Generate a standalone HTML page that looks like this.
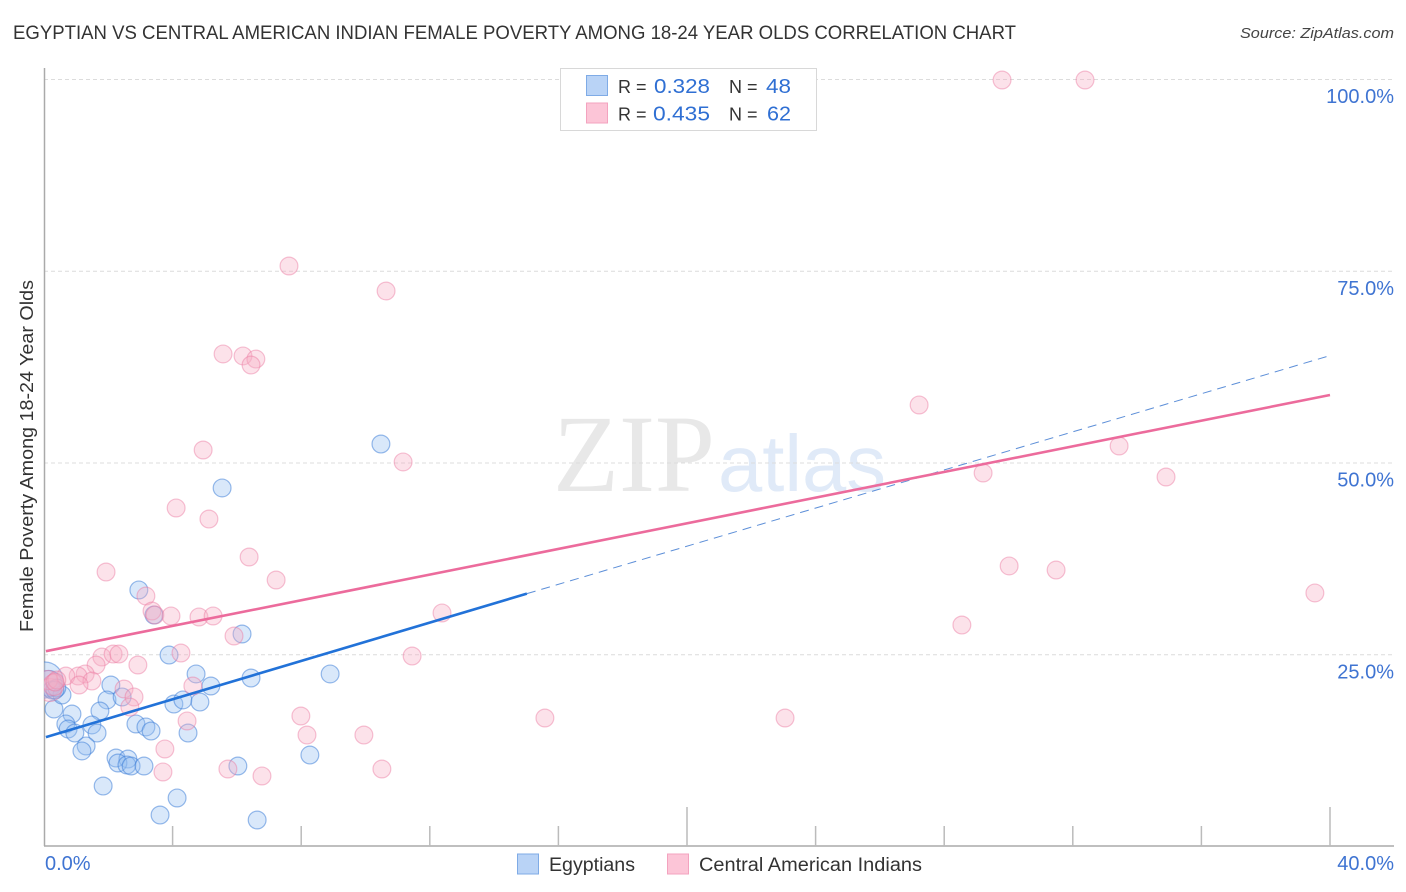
<!DOCTYPE html>
<html lang="en">
<head>
<meta charset="utf-8">
<title>Egyptian vs Central American Indian Female Poverty Correlation Chart</title>
<style>
html,body{margin:0;padding:0;background:#fff;width:1406px;height:892px;overflow:hidden}
svg{display:block;font-family:"Liberation Sans",sans-serif}
</style>
</head>
<body>
<svg id="chart" xmlns="http://www.w3.org/2000/svg" width="1406" height="892" viewBox="0 0 1406 892">
<defs><clipPath id="plot-clip"><rect x="44" y="60" width="1360" height="786"/></clipPath></defs>
<rect width="1406" height="892" fill="#fff"/>
<text x="13" y="39" font-size="19" fill="#333" textLength="1003" lengthAdjust="spacingAndGlyphs">EGYPTIAN VS CENTRAL AMERICAN INDIAN FEMALE POVERTY AMONG 18-24 YEAR OLDS CORRELATION CHART</text>
<text x="1394" y="38" font-size="15" font-style="italic" fill="#444" text-anchor="end" textLength="154" lengthAdjust="spacingAndGlyphs">Source: ZipAtlas.com</text>
<text x="553" y="491" font-size="110" fill="#e8e8e8" font-family="'Liberation Serif',serif" textLength="162" lengthAdjust="spacingAndGlyphs">ZIP</text>
<text x="718" y="491" font-size="80" fill="#e0eaf8" textLength="168" lengthAdjust="spacingAndGlyphs">atlas</text>
<g id="grid"></g>
<g id="axes"></g>
<g id="points" clip-path="url(#plot-clip)"></g>
<g id="trends"></g>
<g>
<rect x="560.5" y="68.5" width="256" height="62" fill="#fff" stroke="#d8d8d8"/>
<rect x="586.5" y="75.5" width="21" height="20" fill="#b9d3f6" stroke="#7fabe6"/>
<rect x="586.5" y="103" width="21" height="20" fill="#fcc5d7" stroke="#f3a3bf"/>
<g font-size="20">
<text x="618" y="93" fill="#333" font-size="18">R =</text>
<text x="654" y="93" fill="#2f6fd3" textLength="56" lengthAdjust="spacingAndGlyphs">0.328</text>
<text x="729" y="93" fill="#333" font-size="18">N =</text>
<text x="766" y="93" fill="#2f6fd3" textLength="25" lengthAdjust="spacingAndGlyphs">48</text>
<text x="618" y="120.500" fill="#333" font-size="18">R =</text>
<text x="653" y="120.500" fill="#2f6fd3" textLength="57" lengthAdjust="spacingAndGlyphs">0.435</text>
<text x="729" y="120.500" fill="#333" font-size="18">N =</text>
<text x="767" y="120.500" fill="#2f6fd3" textLength="24" lengthAdjust="spacingAndGlyphs">62</text>
</g>
</g>
<g>
<rect x="517.500" y="854" width="21" height="20" fill="#b9d3f6" stroke="#7fabe6"/>
<text x="549" y="871" font-size="19" fill="#333" textLength="86" lengthAdjust="spacingAndGlyphs">Egyptians</text>
<rect x="667.500" y="854" width="21" height="20" fill="#fcc5d7" stroke="#f3a3bf"/>
<text x="699" y="871" font-size="19" fill="#333" textLength="223" lengthAdjust="spacingAndGlyphs">Central American Indians</text>
</g>
<text transform="translate(33,456) rotate(-90)" text-anchor="middle" font-size="18.500" fill="#333" textLength="352" lengthAdjust="spacingAndGlyphs">Female Poverty Among 18-24 Year Olds</text>
</svg>
<script>
const xTickValues = [0, 4, 8, 12, 16, 20, 24, 28, 32, 36, 40];
const xMajorTicks = [20, 40];
const xLabelValues = ["0.0%", "40.0%"];
const yTickValues = [25, 50, 75, 100];
const yTickLabels = ["25.0%", "50.0%", "75.0%", "100.0%"];

const blueX = [10.48,5.54,2.95,3.42,6.16,3.89,4.73,6.44,8.90,5.19,2.08,0.31,0.25,0.56,1.96,2.43,4.04,4.32,4.85,1.74,0.87,0.68,0.75,0.96,1.49,1.65,2.86,3.17,3.33,4.48,1.31,1.18,2.24,2.61,2.30,2.58,2.71,3.11,6.03,8.27,1.84,4.14,3.61,6.63,0.40,0.34];
const blueY = [52.41,46.68,33.38,30.12,27.64,24.90,22.43,21.90,22.43,20.86,20.99,17.86,20.34,19.69,19.04,19.43,18.51,19.04,18.77,17.60,17.21,15.91,15.25,14.73,15.78,14.73,15.91,15.52,14.99,14.73,13.04,12.39,11.47,11.34,10.82,10.56,10.43,10.43,10.43,11.86,7.82,6.26,4.04,3.39,20.60,20.34];
const blueClusterX = [0.03,0.15];
const blueClusterY = [21.64,21.20];
const blueClusterSize = [3.75,2.7];

const pinkX = [29.80,32.38,7.62,10.64,5.57,6.19,6.59,6.44,27.22,33.44,4.95,11.17,29.21,34.90,4.11,5.13,6.38,1.93,7.22,30.02,31.48,39.53,3.17,3.36,3.45,3.95,4.82,5.26,12.38,28.55,5.91,11.45,1.80,2.15,2.33,4.26,2.92,1.62,1.28,1.06,0.68,0.40,1.49,1.09,2.49,4.63,2.80,2.67,7.99,4.45,15.58,23.05,8.18,9.95,3.76,3.70,5.72,6.78,10.51,0.34];
const pinkY = [99.87,99.87,75.62,72.36,64.15,63.89,63.49,62.71,57.50,52.15,51.63,50.07,48.63,48.11,44.07,42.63,37.68,35.72,34.68,36.51,35.98,32.99,32.59,30.64,30.12,29.99,29.86,29.99,30.38,28.81,27.38,24.77,24.64,25.03,25.03,25.16,23.60,23.60,22.43,22.16,22.16,21.64,21.51,20.99,20.47,20.86,19.43,18.12,16.95,16.30,16.69,16.69,14.47,14.47,12.65,9.65,10.04,9.13,10.04,21.38];
const pinkClusterX = [0.19,0.12,0.30];
const pinkClusterY = [20.34,21.64,21.00];
const pinkClusterSize = [2.4,2.0,2.2];

const blueSolidFit = [0.06, 14.2, 15.02, 32.9];
const blueDashedFit = [15.02, 32.9, 40.05, 64.0];
const pinkFit = [0.06, 25.4, 40, 58.8];

const NS = "http://www.w3.org/2000/svg";
const xScale = v => 44 + v * 32.15;
const yScale = v => 846 - v * 7.67;
function make(tag, attrs, parent) {
  const el = document.createElementNS(NS, tag);
  for (const k in attrs) el.setAttribute(k, attrs[k]);
  parent.appendChild(el);
  return el;
}
const grid = document.getElementById("grid");
const axes = document.getElementById("axes");
const points = document.getElementById("points");
const trends = document.getElementById("trends");

yTickValues.forEach((v, i) => {
  const line = make("line", {x1: 44, x2: 1394, y1: yScale(v) + .5, y2: yScale(v) + .5, stroke: "#dcdcdc", "stroke-width": 1, "stroke-dasharray": "4 3"}, grid);
  
  
  const label = make("text", {x: 1394, y: yScale(v) + 24, "text-anchor": "end", "font-size": 20, fill: "#3f74d2"}, axes);
  label.textContent = yTickLabels[i];
  
  
});

const yAxis = make("line", {x1: 44.500, x2: 44.500, y1: 68, y2: 846, stroke: "#aaa", "stroke-width": 1.500}, axes);


const xAxis = make("line", {x1: 44, x2: 1394, y1: 846, y2: 846, stroke: "#aaa", "stroke-width": 1.500}, axes);



xTickValues.slice(1).forEach(v => {
  const tick = make("line", {x1: xScale(v), x2: xScale(v), y1: xMajorTicks.includes(v) ? 807 : 826, y2: 846, stroke: "#bbb", "stroke-width": 1.500}, axes);
  
  
});

const xLabel0 = make("text", {x: 45, y: 870, "font-size": 20, fill: "#3f74d2"}, axes);
xLabel0.textContent = xLabelValues[0];


const xLabel1 = make("text", {x: 1394, y: 870, "text-anchor": "end", "font-size": 20, fill: "#3f74d2"}, axes);
xLabel1.textContent = xLabelValues[1];



function blueDot(x, y, r) {
  const c = make("circle", {cx: xScale(x), cy: yScale(y), r: r, fill: "rgba(150,190,240,.36)", stroke: "rgba(60,125,215,.52)", "stroke-width": 1.200}, points);
  
  
}
function pinkDot(x, y, r) {
  const c = make("circle", {cx: xScale(x), cy: yScale(y), r: r, fill: "rgba(248,175,198,.36)", stroke: "rgba(235,120,160,.45)", "stroke-width": 1.200}, points);
  
  
}
blueClusterX.forEach((x, i) => blueDot(x, blueClusterY[i], 4.8 * blueClusterSize[i]));
blueX.forEach((x, i) => blueDot(x, blueY[i], 8.9));
pinkClusterX.forEach((x, i) => pinkDot(x, pinkClusterY[i], 4.8 * pinkClusterSize[i]));
pinkX.forEach((x, i) => pinkDot(x, pinkY[i], 8.9));

const blueDash = make("line", {x1: xScale(blueDashedFit[0]), y1: yScale(blueDashedFit[1]), x2: xScale(blueDashedFit[2]), y2: yScale(blueDashedFit[3]), stroke: "#5d8fd8", "stroke-width": 1, "stroke-dasharray": "9 6"}, trends);


const blueSolid = make("line", {x1: xScale(blueSolidFit[0]), y1: yScale(blueSolidFit[1]), x2: xScale(blueSolidFit[2]), y2: yScale(blueSolidFit[3]), stroke: "#2272d8", "stroke-width": 2.600}, trends);


const pinkSolid = make("line", {x1: xScale(pinkFit[0]), y1: yScale(pinkFit[1]), x2: xScale(pinkFit[2]), y2: yScale(pinkFit[3]), stroke: "#ec6b9c", "stroke-width": 2.600}, trends);


</script>
</body>
</html>
